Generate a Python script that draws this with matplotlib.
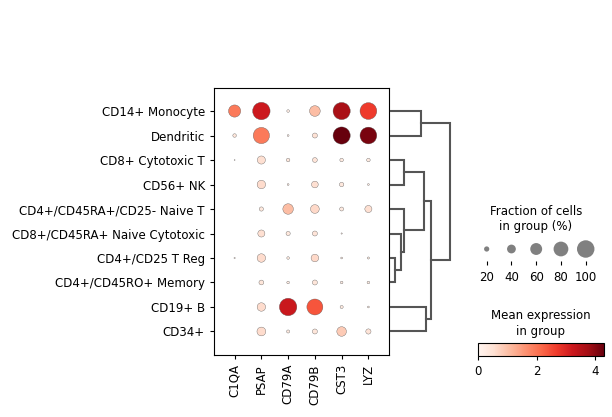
import numpy as np
import matplotlib
matplotlib.use("Agg")
import matplotlib.pyplot as plt
from matplotlib import colors as mcolors
from matplotlib.colorbar import ColorbarBase

# groups (rows) and genes (columns)
groups = ["CD14+ Monocyte", "Dendritic", "CD8+ Cytotoxic T", "CD56+ NK",
          "CD4+/CD45RA+/CD25- Naive T", "CD8+/CD45RA+ Naive Cytotoxic",
          "CD4+/CD25 T Reg", "CD4+/CD45RO+ Memory", "CD19+ B", "CD34+"]
genes = ["C1QA", "PSAP", "CD79A", "CD79B", "CST3", "LYZ"]

# fraction of cells expressing (0-1)
frac = np.array([
    [0.62, 1.00, 0.08, 0.52, 0.98, 0.95],
    [0.12, 0.91, 0.05, 0.19, 0.98, 0.95],
    [0.02, 0.36, 0.12, 0.18, 0.12, 0.12],
    [0.00, 0.38, 0.05, 0.28, 0.16, 0.05],
    [0.00, 0.15, 0.51, 0.40, 0.14, 0.30],
    [0.00, 0.30, 0.15, 0.19, 0.03, 0.00],
    [0.03, 0.38, 0.08, 0.33, 0.05, 0.06],
    [0.00, 0.18, 0.08, 0.19, 0.08, 0.08],
    [0.00, 0.38, 1.00, 0.89, 0.10, 0.05],
    [0.00, 0.40, 0.10, 0.19, 0.45, 0.20],
])

# mean expression in group
expr = np.array([
    [1.95, 3.20, 0.20, 1.05, 3.70, 2.70],
    [0.40, 1.95, 0.20, 0.50, 4.31, 4.15],
    [0.30, 0.55, 0.35, 0.45, 0.30, 0.30],
    [0.00, 0.60, 0.25, 0.55, 0.35, 0.25],
    [0.00, 0.35, 1.05, 0.65, 0.30, 0.55],
    [0.00, 0.55, 0.35, 0.45, 0.25, 0.00],
    [0.25, 0.60, 0.30, 0.65, 0.25, 0.30],
    [0.00, 0.40, 0.25, 0.40, 0.25, 0.25],
    [0.00, 0.60, 3.25, 2.40, 0.30, 0.25],
    [0.00, 0.60, 0.30, 0.40, 0.85, 0.45],
])

# dendrogram merges: (child a, child b, height); ints < 10 are rows, >= 10 are merges
merges = [
    (6, 7, 6),
    (5, 10, 11.7),
    (4, 11, 15),
    (2, 3, 15),
    (13, 12, 35),
    (8, 9, 36.7),
    (14, 15, 42),
    (0, 1, 32),
    (17, 16, 61),
]

size_legend = [20, 40, 60, 80, 100]
cbar_ticks = [0, 2, 4]
vmax = 4.31

W, H = 612, 417
fig = plt.figure(figsize=(W / 100, H / 100), dpi=100)
FS = 8.5
largest = 158


def px(x0, y0, x1, y1):
    # pixel box -> figure fraction [left, bottom, width, height]
    return [x0 / W, 1 - y1 / H, (x1 - x0) / W, (y1 - y0) / H]


cmap = plt.get_cmap("Reds")
norm = mcolors.Normalize(vmin=0, vmax=vmax)

# main dot plot
ax = fig.add_axes(px(214, 88, 389, 355))
xx, yy = np.meshgrid(np.arange(len(genes)), np.arange(len(groups)))
ax.scatter(xx.ravel(), yy.ravel(), s=(frac.ravel() ** 1.5) * largest,
           c=expr.ravel(), cmap=cmap, norm=norm,
           edgecolors="#555555", linewidths=0.25, zorder=3)
ax.set_xlim(-0.77, 5.77)
ax.set_ylim(9.96, -0.94)
ax.set_xticks(range(len(genes)))
ax.set_xticklabels(genes, rotation=90, fontsize=FS)
ax.set_yticks(range(len(groups)))
ax.set_yticklabels(groups, fontsize=FS)
ax.tick_params(length=3, width=0.8)

# dendrogram
dax = fig.add_axes(px(389, 88, 460, 355))
dax.set_xlim(0, 71)
dax.set_ylim(9.96, -0.94)
dax.axis("off")
pos = {i: (0.0, float(i)) for i in range(len(groups))}
for k, (a, b, h) in enumerate(merges):
    xa, ya = pos[a]
    xb, yb = pos[b]
    dax.plot([max(xa, 1.5), h, h, max(xb, 1.5)], [ya, ya, yb, yb],
             color="#555555", lw=1.5, solid_joinstyle="miter")
    pos[10 + k] = (h, (ya + yb) / 2)

# size legend
sax = fig.add_axes(px(474.3, 237, 598.1, 261))
xs = np.arange(len(size_legend)) + 0.5
sax.scatter(xs, np.full(len(xs), 0.5),
            s=((np.array(size_legend) / 100) ** 1.5) * largest,
            color="gray", edgecolors="none")
sax.set_xlim(0, 5)
sax.set_ylim(0, 1)
sax.set_xticks(xs)
sax.set_xticklabels([str(v) for v in size_legend], fontsize=FS)
sax.set_yticks([])
sax.tick_params(axis="x", length=3, width=0.8, pad=4)
for sp in sax.spines.values():
    sp.set_visible(False)
fig.text(536 / W, 1 - 219.5 / H, "Fraction of cells\nin group (%)",
         ha="center", va="center", fontsize=FS, multialignment="center")

# colorbar
cax = fig.add_axes(px(478.3, 343.3, 604, 356))
cb = ColorbarBase(cax, cmap=cmap, norm=norm, orientation="horizontal")
cb.set_ticks(cbar_ticks)
cax.tick_params(labelsize=FS, length=3, width=0.8)
fig.text(541 / W, 1 - 323.5 / H, "Mean expression\nin group",
         ha="center", va="center", fontsize=FS, multialignment="center")

fig.savefig("out.png", dpi=100)
